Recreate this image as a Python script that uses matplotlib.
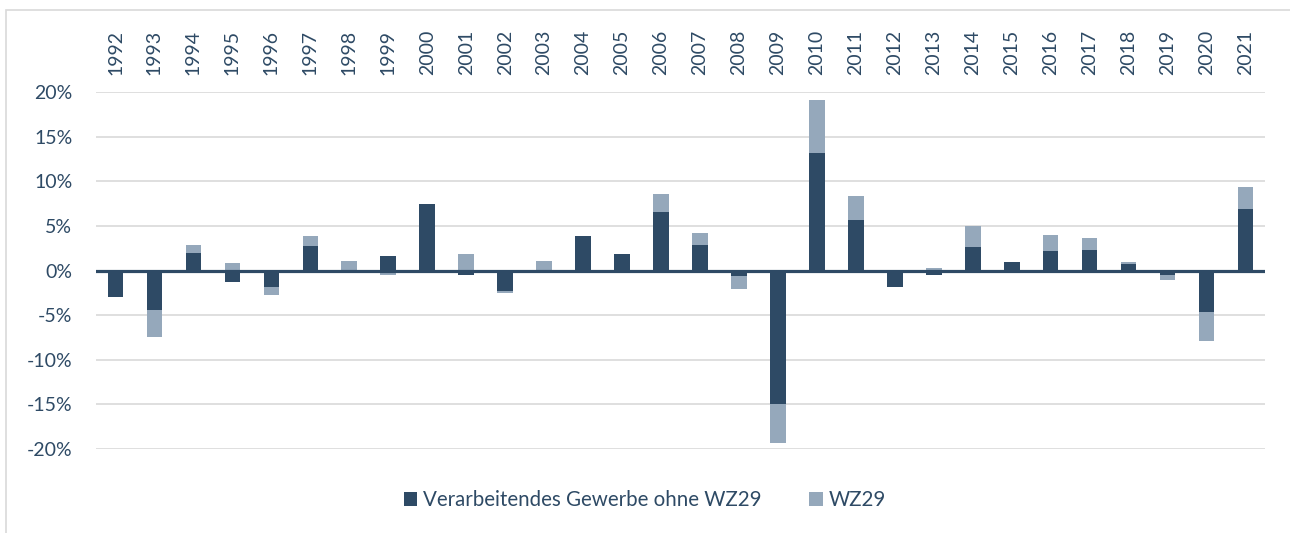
import matplotlib.pyplot as plt
import numpy as np
from matplotlib.patches import Rectangle

plt.rcParams['font.family'] = ['Lato', 'DejaVu Sans']

years = [str(y) for y in range(1992, 2022)]
# Verarbeitendes Gewerbe ohne WZ29 (%)
vg = [-3.0, -4.4, 2.0, -1.3, -1.9, 2.8, 0.05, 1.6, 7.4, -0.45,
      -2.3, 0.05, 3.9, 1.8, 6.5, 2.9, -0.6, -15.0, 13.2, 5.7,
      -1.8, -0.45, 2.65, 1.0, 2.2, 2.35, 0.7, -0.5, -4.7, 6.85]
# WZ29 (%)
wz29 = [0.0, -3.1, 0.9, 0.8, -0.85, 1.1, 1.0, -0.5, 0.0, 1.8,
        -0.18, 1.0, 0.0, 0.0, 2.1, 1.35, -1.5, -4.3, 5.9, 2.6,
        0.0, 0.3, 2.35, 0.0, 1.75, 1.25, 0.2, -0.6, -3.25, 2.5]
yticks = [-20, -15, -10, -5, 0, 5, 10, 15, 20]

dark = '#2E4A65'
light = '#95A8BB'
textc = '#2E4A65'

vg = np.array(vg)
wz29 = np.array(wz29)
x = np.arange(len(years))

# Excel-style stacking: positives on positive side, negatives on negative side
wz_base = np.where(wz29 >= 0, np.where(vg > 0, vg, 0), np.where(vg < 0, vg, 0))

fig = plt.figure(figsize=(12.9, 5.33), dpi=100)
ax = fig.add_axes([96 / 1290, 1 - 449 / 533, 1169 / 1290, 357 / 533])

fig.patches.append(Rectangle((6 / 1290, -0.1), 1.1, 1 - 10 / 533 + 0.1,
                             transform=fig.transFigure, fill=False,
                             edgecolor='#D9D9D9', lw=1.2))

ax.bar(x, vg, width=0.4, color=dark, label='Verarbeitendes Gewerbe ohne WZ29', zorder=2)
ax.bar(x, wz29, width=0.4, bottom=wz_base, color=light, label='WZ29', zorder=2)
ax.axhline(0, color=dark, lw=2.3, zorder=3)

ax.set_xlim(-0.5, len(years) - 0.5)
ax.set_ylim(-20, 20)
ax.set_yticks(yticks)
ax.set_yticklabels([f'{t}%' for t in yticks], fontsize=14, color=textc)
ax.yaxis.grid(True, color='#D9D9D9', lw=1.2, zorder=0)
ax.set_axisbelow(True)

ax.xaxis.tick_top()
ax.set_xticks(x)
ax.set_xticklabels(years, rotation=90, fontsize=14, color=textc)
ax.tick_params(axis='x', length=0, pad=12)
ax.tick_params(axis='y', length=0, pad=17)
for s in ax.spines.values():
    s.set_visible(False)

fig.legend(loc='center', bbox_to_anchor=(0.5, 1 - 500 / 533), ncol=2, frameon=False,
           fontsize=14.8, labelcolor=textc, handlelength=0.65, handleheight=0.65,
           handletextpad=0.3, columnspacing=2.3)

fig.savefig('out.png', dpi=100)
